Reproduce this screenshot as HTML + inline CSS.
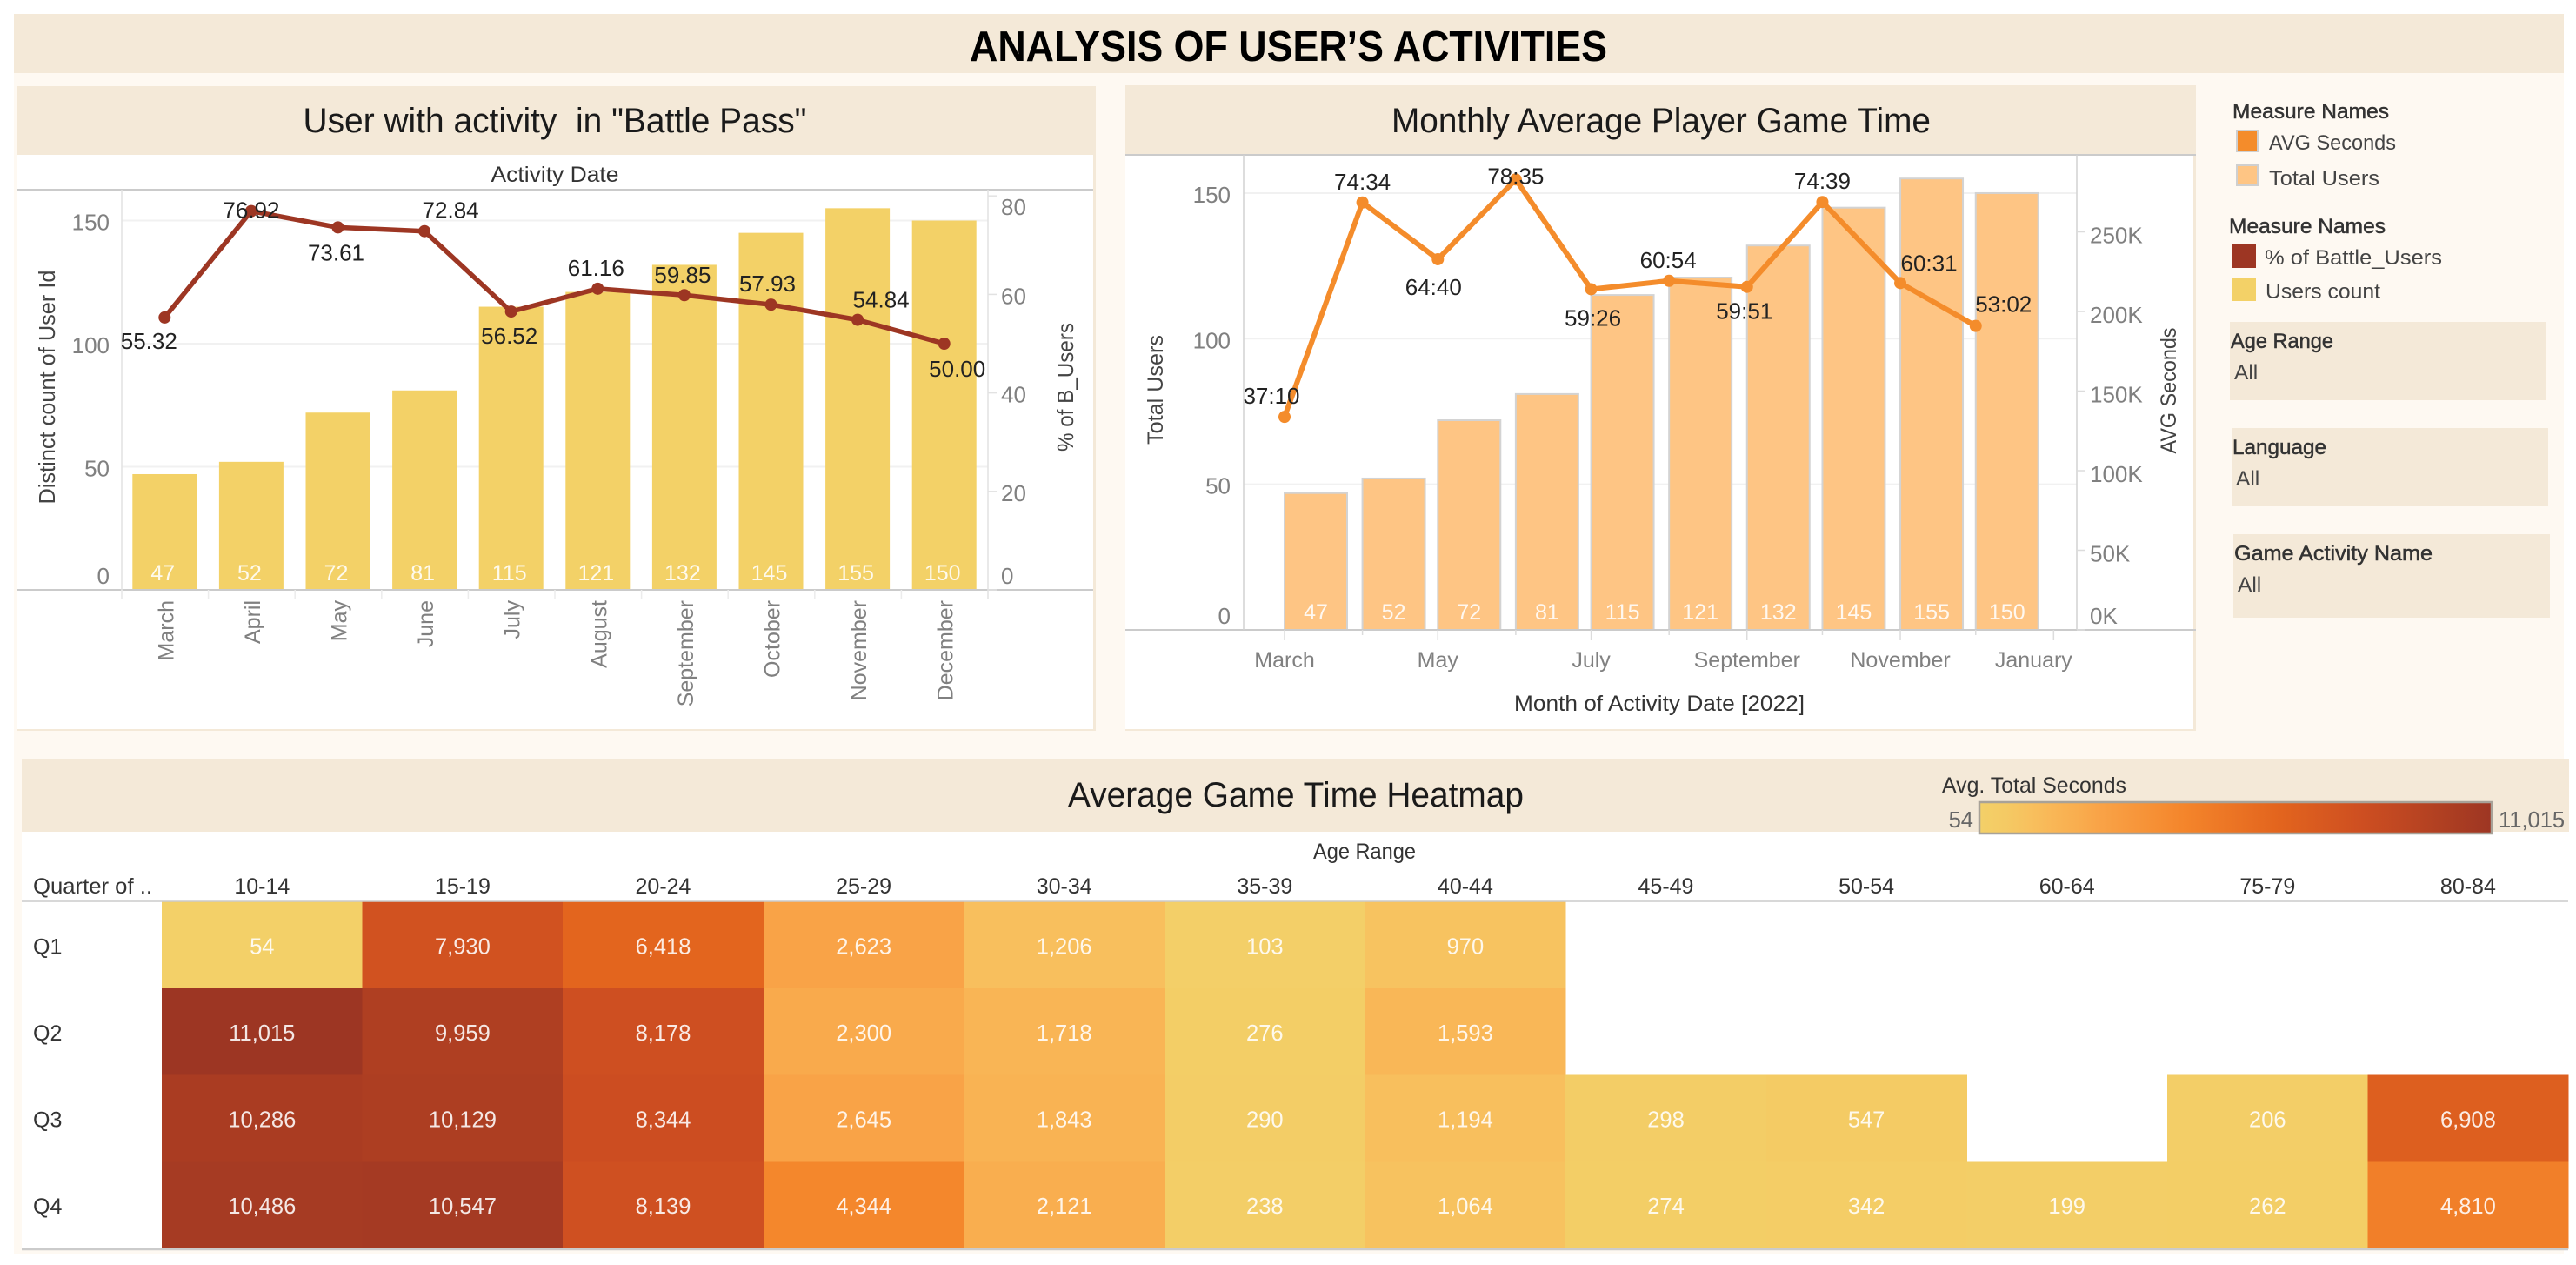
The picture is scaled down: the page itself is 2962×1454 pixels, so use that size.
<!DOCTYPE html>
<html lang="en">
<head>
<meta charset="utf-8">
<title>Analysis of User's Activities</title>
<style>
html,body{margin:0;padding:0;background:#fff;}
body{width:2962px;height:1454px;overflow:hidden;}
svg{display:block;}
text{font-family:"Liberation Sans",sans-serif;}
</style>
</head>
<body>
<svg id="dash" xmlns="http://www.w3.org/2000/svg" width="2962" height="1454" viewBox="0 0 2962 1454">
  <rect x="16" y="16" width="2932" height="1425" fill="#fef9f2"/>
  <rect x="16" y="16" width="2932" height="68" fill="#f4e9d8"/>
  <text x="1481.5" y="70" text-anchor="middle" font-size="49" font-weight="700" fill="#000" textLength="733" lengthAdjust="spacingAndGlyphs">ANALYSIS OF USER’S ACTIVITIES</text>

  <!-- Panel 1 frame -->
  <rect x="20" y="178" width="1240" height="662" fill="#f4e9d8"/>
  <rect x="20" y="178" width="1237" height="660" fill="#fff"/>
  <rect x="20" y="99" width="1240" height="79" fill="#f4e9d8"/>
  <text x="638" y="152" text-anchor="middle" font-size="40" fill="#1a1a1a" textLength="579" lengthAdjust="spacingAndGlyphs">User with activity&#160;&#160;in "Battle Pass"</text>
  <text x="638" y="209" text-anchor="middle" font-size="25" fill="#333" textLength="147" lengthAdjust="spacingAndGlyphs">Activity Date</text>
  <g id="chart1"></g>

  <!-- Panel 2 frame -->
  <rect x="1294" y="178" width="1231" height="662" fill="#f4e9d8"/>
  <rect x="1294" y="178" width="1228" height="660" fill="#fff"/>
  <rect x="1294" y="98" width="1231" height="80" fill="#f4e9d8"/>
  <text x="1910" y="152" text-anchor="middle" font-size="40" fill="#1a1a1a" textLength="620" lengthAdjust="spacingAndGlyphs">Monthly Average Player Game Time</text>
  <text x="1908" y="817" text-anchor="middle" font-size="25" fill="#333" textLength="334" lengthAdjust="spacingAndGlyphs">Month of Activity Date [2022]</text>
  <g id="chart2"></g>

  <!-- Legends -->
  <g font-size="24.5" fill="#444">
    <text x="2567" y="136" fill="#333" stroke="#333" stroke-width=".5" textLength="180" lengthAdjust="spacingAndGlyphs">Measure Names</text>
    <rect x="2572" y="150" width="24" height="24" fill="#f48c2b" stroke="#cfcfcf" stroke-width="2"/>
    <text x="2609" y="172" textLength="146" lengthAdjust="spacingAndGlyphs">AVG Seconds</text>
    <rect x="2572" y="190" width="24" height="23" fill="#fec584" stroke="#cfcfcf" stroke-width="2"/>
    <text x="2609" y="213" textLength="127" lengthAdjust="spacingAndGlyphs">Total Users</text>
  </g>
  <g font-size="24.5" fill="#444">
    <text x="2563" y="268" fill="#333" stroke="#333" stroke-width=".5" textLength="180" lengthAdjust="spacingAndGlyphs">Measure Names</text>
    <rect x="2566" y="280" width="28" height="28" fill="#9d3623"/>
    <text x="2604" y="304" textLength="204" lengthAdjust="spacingAndGlyphs">% of Battle_Users</text>
    <rect x="2566" y="320" width="28" height="26" fill="#f3d167"/>
    <text x="2605" y="343" textLength="132" lengthAdjust="spacingAndGlyphs">Users count</text>
  </g>

  <!-- Filters -->
  <g>
    <rect x="2564" y="370" width="364" height="90" fill="#f4e9d8"/>
    <text x="2565" y="400" font-size="24.5" fill="#333" stroke="#333" stroke-width=".5" textLength="118" lengthAdjust="spacingAndGlyphs">Age Range</text>
    <text x="2569" y="436" font-size="24.5" fill="#444">All</text>
  </g>
  <g>
    <rect x="2566" y="492" width="364" height="90" fill="#f4e9d8"/>
    <text x="2567" y="522" font-size="24.5" fill="#333" stroke="#333" stroke-width=".5" textLength="108" lengthAdjust="spacingAndGlyphs">Language</text>
    <text x="2571" y="558" font-size="24.5" fill="#444">All</text>
  </g>
  <g>
    <rect x="2568" y="614" width="364" height="96" fill="#f4e9d8"/>
    <text x="2569" y="644" font-size="24.5" fill="#333" stroke="#333" stroke-width=".5" textLength="228" lengthAdjust="spacingAndGlyphs">Game Activity Name</text>
    <text x="2573" y="680" font-size="24.5" fill="#444">All</text>
  </g>

  <!-- Heatmap frame -->
  <rect x="25" y="955" width="2928" height="482" fill="#fff"/>
  <rect x="25" y="872" width="2929" height="84" fill="#f4e9d8"/>
  <text x="1490" y="927" text-anchor="middle" font-size="40" fill="#1a1a1a" textLength="524" lengthAdjust="spacingAndGlyphs">Average Game Time Heatmap</text>
  <text x="2233" y="911" font-size="25" fill="#333" textLength="212" lengthAdjust="spacingAndGlyphs">Avg. Total Seconds</text>
  <text x="1569" y="987" text-anchor="middle" font-size="25" fill="#333" textLength="118" lengthAdjust="spacingAndGlyphs">Age Range</text>
  <text x="38" y="1027" font-size="25" fill="#333" textLength="137" lengthAdjust="spacingAndGlyphs">Quarter of ..</text>
  <g id="heat"></g>
</svg>

<script>
// ---------- Battle Pass chart data ----------
const monthNames = ['March','April','May','June','July','August','September','October','November','December'];
const usersCount = [47,52,72,81,115,121,132,145,155,150];
const battlePct = [55.32,76.92,73.61,72.84,56.52,61.16,59.85,57.93,54.84,50.00];
const countTicks = [0,50,100,150];
const pctTicks = [0,20,40,60,80];

// ---------- Monthly game time chart data ----------
const totalUsers = [47,52,72,81,115,121,132,145,155,150];
const avgSeconds = [133800,268440,232800,282900,213960,219240,215460,268740,217860,190920];
const userTicks = [0,50,100,150];
const secondTicks = [0,50000,100000,150000,200000,250000];
const dateTickLabels = ['March','May','July','September','November','January'];

// ---------- Heatmap data ----------
const ageRanges = ['10-14','15-19','20-24','25-29','30-34','35-39','40-44','45-49','50-54','60-64','75-79','80-84'];
const quarters = ['Q1','Q2','Q3','Q4'];
const q1Seconds = [54,7930,6418,2623,1206,103,970,null,null,null,null,null];
const q2Seconds = [11015,9959,8178,2300,1718,276,1593,null,null,null,null,null];
const q3Seconds = [10286,10129,8344,2645,1843,290,1194,298,547,null,206,6908];
const q4Seconds = [10486,10547,8139,4344,2121,238,1064,274,342,199,262,4810];

const NS = 'http://www.w3.org/2000/svg';
function mk(parent, tag, attrs, txt) {
  const el = document.createElementNS(NS, tag);
  for (const k in attrs) el.setAttribute(k, attrs[k]);
  if (txt !== undefined) el.textContent = txt;
  parent.appendChild(el);
  return el;
}
const GRID = '#f1f1f1', AXIS = '#cbcbcb', TICKTXT = '#808080', DARK = '#222';

// ========== Chart 1 ==========
(function () {
  const g = document.getElementById('chart1');
  const left = 140, right = 1136, base = 678;
  const band = (right - left) / monthNames.length;
  const xBand = i => left + band * (i + 0.5) - 0.5;
  const yCount = v => base - v * 2.83;
  const yPct = v => base - v * 5.66;
  const barW = 74;

  countTicks.filter(t => t > 0).forEach(t => {
    const el = mk(g, 'line', {x1: left, x2: right, y1: yCount(t), y2: yCount(t), stroke: GRID, 'stroke-width': 2});
    
    
  });

  usersCount.forEach((v, i) => {
    const el = mk(g, 'rect', {x: xBand(i) - barW / 2, y: yCount(v), width: barW, height: base - yCount(v), fill: '#f3d167'});
    
    
  });

  [[20, 218, 1257, 218], [20, base, 1257, base], [left, 218, left, base + 10], [right, 218, right, base + 10]].forEach((p, i) => {
    const el = mk(g, 'line', {x1: p[0], y1: p[1], x2: p[2], y2: p[3], stroke: i < 2 ? AXIS : '#e2e2e2', 'stroke-width': i < 2 ? 2 : 1.5});
    
    
  });

  countTicks.forEach(t => {
    const offs = t === 0 ? -7 : 11;
    const el = mk(g, 'text', {x: 126, y: yCount(t) + offs, 'text-anchor': 'end', 'font-size': 26, fill: TICKTXT}, String(t));
    
    
  });
  pctTicks.forEach(t => {
    const tk = mk(g, 'line', {x1: right, x2: right + 10, y1: yPct(t), y2: yPct(t), stroke: '#e2e2e2', 'stroke-width': 1.5});
    
    
    const shift = t === 0 ? -7 : t === 80 ? 22 : 11;
    const el = mk(g, 'text', {x: 1151, y: yPct(t) + shift, 'font-size': 26, fill: TICKTXT}, String(t));
    
    
  });

  monthNames.forEach((m, i) => {
    const x = xBand(i);
    const tk = mk(g, 'line', {x1: left + band * i, x2: left + band * i, y1: base, y2: base + 10, stroke: '#ececec', 'stroke-width': 1.5});
    
    
    const el = mk(g, 'text', {transform: 'translate(' + (x + 10) + ',690) rotate(-90)', 'text-anchor': 'end', 'font-size': 25, fill: TICKTXT}, m);
    
    
  });

  const t1 = mk(g, 'text', {transform: 'translate(63,445) rotate(-90)', 'text-anchor': 'middle', 'font-size': 26, fill: '#444', textLength: 269, lengthAdjust: 'spacingAndGlyphs'}, 'Distinct count of User Id');
  
  
  const t2 = mk(g, 'text', {transform: 'translate(1234,445) rotate(-90)', 'text-anchor': 'middle', 'font-size': 26, fill: '#444', textLength: 148, lengthAdjust: 'spacingAndGlyphs'}, '% of B_Users');
  
  

  const path = mk(g, 'polyline', {points: battlePct.map((v, i) => xBand(i) + ',' + yPct(v)).join(' '), fill: 'none', stroke: '#9d3623', 'stroke-width': 5.5, 'stroke-linejoin': 'round'});
  
  

  battlePct.forEach((v, i) => {
    const c = mk(g, 'circle', {cx: xBand(i), cy: yPct(v), r: 7, fill: '#9d3623'});
    
    
  });

  const nudgeX = [-18, 0, -2, 30, -2, -2, -2, -4, 27, 15];
  const nudgeY = [36, 8, 38, -15, 37, -15, -14, -15, -14, 38];
  battlePct.forEach((v, i) => {
    const el = mk(g, 'text', {x: xBand(i) + nudgeX[i], y: yPct(v) + nudgeY[i], 'text-anchor': 'middle', 'font-size': 26, fill: DARK}, v.toFixed(2));
    
    
  });

  usersCount.forEach((v, i) => {
    const el = mk(g, 'text', {x: xBand(i) - 2, y: 667, 'text-anchor': 'middle', 'font-size': 25, fill: '#fff', 'fill-opacity': 0.88}, String(v));
    
    
  });
})();

// ========== Chart 2 ==========
(function () {
  const g = document.getElementById('chart2');
  const left = 1430, right = 2388, base = 724;
  const dayZero = Date.UTC(2022, 2, 1);
  const xDate = d => 1477 + (d - dayZero) / 86400000 * 2.89;
  const monthStart = i => Date.UTC(2022, 2 + i, 1);
  const yUsers = v => base - v * 3.347;
  const ySec = v => base - v * 91.5 / 50000;
  const barW = 72;
  const fmt = s => Math.floor(s / 3600) + ':' + String(Math.round((s % 3600) / 60)).padStart(2, '0');

  userTicks.filter(t => t > 0).forEach(t => {
    const el = mk(g, 'line', {x1: left, x2: right, y1: yUsers(t), y2: yUsers(t), stroke: GRID, 'stroke-width': 2});
    
    
  });

  totalUsers.forEach((v, i) => {
    const el = mk(g, 'rect', {x: xDate(monthStart(i)), y: yUsers(v), width: barW, height: base - yUsers(v), fill: '#fec584', stroke: '#d3d3d3', 'stroke-width': 2});
    
    
  });

  [[1294, 178, 2525, 178], [1294, base, 2525, base], [left, 178, left, base], [right, 178, right, base]].forEach((p, i) => {
    const el = mk(g, 'line', {x1: p[0], y1: p[1], x2: p[2], y2: p[3], stroke: i < 2 ? AXIS : '#d2d2d2', 'stroke-width': i < 2 ? 2 : 1.5});
    
    
  });

  userTicks.forEach(t => {
    const shift = t === 0 ? -7 : 11;
    const el = mk(g, 'text', {x: 1415, y: yUsers(t) + shift, 'text-anchor': 'end', 'font-size': 26, fill: TICKTXT}, String(t));
    
    
  });
  secondTicks.forEach(t => {
    const tk = mk(g, 'line', {x1: right, x2: right + 10, y1: ySec(t), y2: ySec(t), stroke: '#dcdcdc', 'stroke-width': 1.5});
    
    
    const el = mk(g, 'text', {x: 2403, y: t === 0 ? 717 : ySec(t) + 13, 'font-size': 26, fill: TICKTXT}, (t / 1000) + 'K');
    
    
  });

  for (let i = 0; i <= 10; i++) {
    const x = xDate(monthStart(i));
    const tk = mk(g, 'line', {x1: x, x2: x, y1: base, y2: base + (i % 2 ? 6 : 12), stroke: '#dcdcdc', 'stroke-width': 1.5});
    
    
  }
  dateTickLabels.forEach((m, i) => {
    const x = xDate(monthStart(i * 2));
    const el = mk(g, 'text', {x: i === 5 ? x - 23 : x, y: 767, 'text-anchor': 'middle', 'font-size': 25, fill: TICKTXT}, m);
    
    
  });

  const t1 = mk(g, 'text', {transform: 'translate(1337,448) rotate(-90)', 'text-anchor': 'middle', 'font-size': 25, fill: '#444', textLength: 126, lengthAdjust: 'spacingAndGlyphs'}, 'Total Users');
  
  
  const t2 = mk(g, 'text', {transform: 'translate(2502,449) rotate(-90)', 'text-anchor': 'middle', 'font-size': 25, fill: '#444', textLength: 145, lengthAdjust: 'spacingAndGlyphs'}, 'AVG Seconds');
  
  

  const path = mk(g, 'polyline', {points: avgSeconds.map((v, i) => xDate(monthStart(i)) + ',' + ySec(v)).join(' '), fill: 'none', stroke: '#f48c2b', 'stroke-width': 6, 'stroke-linejoin': 'round'});
  
  

  avgSeconds.forEach((v, i) => {
    const c = mk(g, 'circle', {cx: xDate(monthStart(i)), cy: ySec(v), r: 7, fill: '#f48c2b'});
    
    
  });

  const nudgeX = [-15, 0, -5, 0, 2, -1, -3, 0, 33, 32];
  const nudgeY = [-15, -15, 41, 5, 42, -15, 37, -15, -14, -16];
  avgSeconds.forEach((v, i) => {
    const el = mk(g, 'text', {x: xDate(monthStart(i)) + nudgeX[i], y: ySec(v) + nudgeY[i], 'text-anchor': 'middle', 'font-size': 26, fill: DARK}, fmt(v));
    
    
  });

  totalUsers.forEach((v, i) => {
    const el = mk(g, 'text', {x: xDate(monthStart(i)) + barW / 2, y: 712, 'text-anchor': 'middle', 'font-size': 25, fill: '#fff', 'fill-opacity': 0.88}, String(v));
    
    
  });
})();

// ========== Heatmap ==========
(function () {
  const g = document.getElementById('heat');
  const x0 = 186, colW = 230.6, y0 = 1036.5, rowH = 99.6;
  const rows = [q1Seconds, q2Seconds, q3Seconds, q4Seconds];
  const vMin = 54, vMax = 11015;
  const stops = [[0, [243,208,104]], [0.05, [244,202,100]], [0.1, [248,192,94]], [0.15, [249,181,85]], [0.19, [249,174,79]], [0.235, [249,163,71]], [0.4, [244,133,43]], [0.58, [227,101,30]], [0.75, [205,78,33]], [1, [157,54,35]]];
  function heat(v) {
    const f = Math.max(0, Math.min(1, (v - vMin) / (vMax - vMin)));
    for (let i = 1; i < stops.length; i++) {
      if (f <= stops[i][0]) {
        const a = stops[i - 1], b = stops[i];
        const t = (f - a[0]) / (b[0] - a[0]);
        const c = a[1].map((av, k) => Math.round(av + (b[1][k] - av) * t));
        return 'rgb(' + c.join(',') + ')';
      }
    }
    return 'rgb(157,54,35)';
  }

  ageRanges.forEach((a, c) => {
    const el = mk(g, 'text', {x: x0 + colW * (c + 0.5), y: 1027, 'text-anchor': 'middle', 'font-size': 25, fill: '#333'}, a);
    
    
  });

  rows.forEach((row, r) => {
    const ql = mk(g, 'text', {x: 38, y: y0 + rowH * (r + 0.5) + 10, 'font-size': 25, fill: '#333'}, quarters[r]);
    
    
    row.forEach((v, c) => {
      if (v === null) return;
      const cell = mk(g, 'rect', {x: x0 + colW * c, y: y0 + rowH * r, width: colW + 0.5, height: rowH + 0.5, fill: heat(v), 'shape-rendering': 'crispEdges'});
      
      
    });
  });
  rows.forEach((row, r) => {
    row.forEach((v, c) => {
      if (v === null) return;
      const t = mk(g, 'text', {x: x0 + colW * (c + 0.5), y: y0 + rowH * (r + 0.5) + 10, 'text-anchor': 'middle', 'font-size': 25.5, fill: '#fff', 'fill-opacity': 0.88}, v.toLocaleString('en-US'));
      
      
    });
  });

  [[25, 1036, 2953, 1036, 1.5], [25, 1436, 2953, 1436, 2.5]].forEach(p => {
    const l = mk(g, 'line', {x1: p[0], y1: p[1], x2: p[2], y2: p[3], stroke: AXIS, 'stroke-width': p[4]});
    
    
  });

  // colour legend
  const defs = mk(g, 'defs', {});
  const grad = mk(defs, 'linearGradient', {id: 'heatGrad', x1: 0, x2: 1, y1: 0, y2: 0});
  stops.forEach(s => {
    mk(grad, 'stop', {offset: s[0], 'stop-color': 'rgb(' + s[1].join(',') + ')'});
  });
  const bar = mk(g, 'rect', {x: 2276, y: 922, width: 589, height: 36, fill: 'url(#heatGrad)', stroke: '#a8a298', 'stroke-width': 2.5});
  
  
  const lo = mk(g, 'text', {x: 2269, y: 951, 'text-anchor': 'end', 'font-size': 25.5, fill: '#666'}, vMin.toLocaleString('en-US'));
  
  
  const hi = mk(g, 'text', {x: 2873, y: 951, 'font-size': 25.5, fill: '#666'}, vMax.toLocaleString('en-US'));
  
  
})();
</script>
</body>
</html>
